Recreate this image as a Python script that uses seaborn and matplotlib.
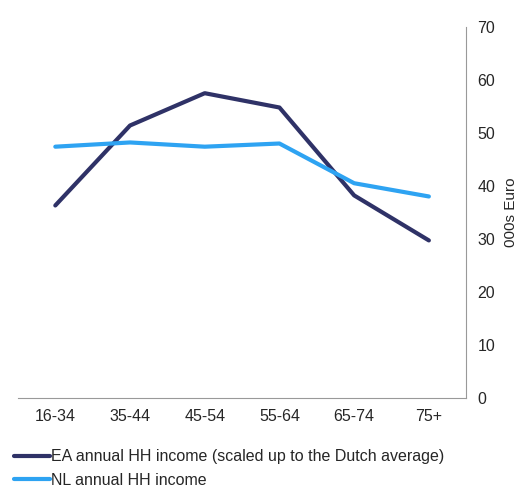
import matplotlib
matplotlib.use("Agg")
import matplotlib.pyplot as plt
import seaborn as sns
import pandas as pd

age_groups = ["16-34", "35-44", "45-54", "55-64", "65-74", "75+"]
ea_income = [36.3, 51.4, 57.5, 54.8, 38.2, 29.7]
nl_income = [47.4, 48.2, 47.4, 48.0, 40.5, 38.0]

sns.set_style("white")
plt.rcParams["font.family"] = ["Liberation Sans", "DejaVu Sans"]
plt.rcParams["font.size"] = 11

df = pd.DataFrame({
    "age": age_groups * 2,
    "value": ea_income + nl_income,
    "series": ["EA annual HH income (scaled up to the Dutch average)"] * 6
              + ["NL annual HH income"] * 6,
})

fig = plt.figure(figsize=(5.28, 4.91), dpi=100)
ax = fig.add_axes([0.034, 0.19, 0.849, 0.755])
sns.lineplot(data=df, x="age", y="value", hue="series",
             palette=["#2f3267", "#2ea3f2"], linewidth=3, ax=ax, sort=False)

ax.set_ylim(0, 70)
ax.set_xlim(-0.5, 5.5)
ax.yaxis.tick_right()
ax.yaxis.set_label_position("right")
ax.set_ylabel("000s Euro", fontsize=11, labelpad=6)
ax.set_xlabel("")
for s in ["top", "left"]:
    ax.spines[s].set_visible(False)
ax.spines["right"].set_color("#999999")
ax.spines["bottom"].set_color("#999999")
ax.tick_params(axis="both", length=0, labelsize=11.5, pad=8)

handles, labels = ax.get_legend_handles_labels()
ax.legend(handles, labels, loc="upper left", bbox_to_anchor=(-0.04, -0.1),
          frameon=False, fontsize=11.5, handlelength=2.2, handletextpad=0.1,
          labelspacing=0.55)

fig.savefig("out.png", dpi=100)
